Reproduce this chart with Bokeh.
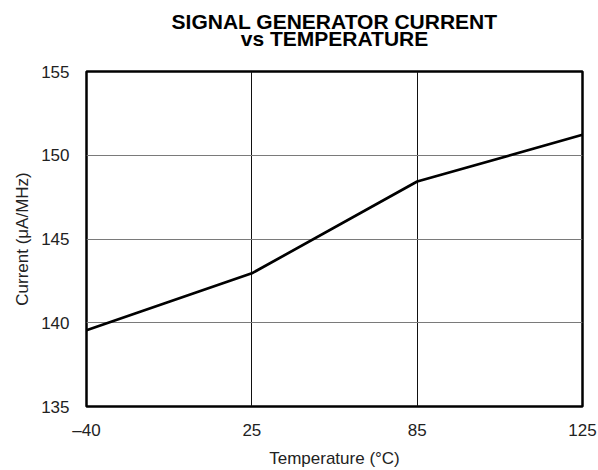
from bokeh.plotting import figure
from bokeh.models import Range1d, FixedTicker, Title
from bokeh.embed import file_html
from bokeh.resources import INLINE

temps = ["–40", "25", "85", "125"]
current = [139.55, 142.95, 148.43, 151.22]
y_ticks = [135, 140, 145, 150, 155]
title_lines = ["SIGNAL GENERATOR CURRENT", "vs TEMPERATURE"]

FONT = "Liberation Sans"
xs = list(range(len(temps)))

p = figure(width=598, height=470, output_backend="svg", toolbar_location=None,
           x_range=Range1d(0, len(temps) - 1), y_range=Range1d(y_ticks[0], y_ticks[-1]),
           min_border_left=86, min_border_right=16, min_border_top=71, min_border_bottom=64)
p.background_fill_color = "white"
p.border_fill_color = "white"
p.outline_line_color = "black"
p.outline_line_width = 2.5

p.line(xs, current, line_color="black", line_width=2.7)

p.xaxis.ticker = FixedTicker(ticks=xs)
p.xaxis.major_label_overrides = {i: t for i, t in enumerate(temps)}
p.yaxis.ticker = FixedTicker(ticks=y_ticks)

for ax in (p.xaxis[0], p.yaxis[0]):
    ax.axis_line_color = None
    ax.major_tick_line_color = None
    ax.minor_tick_line_color = None
    ax.major_tick_out = 0
    ax.major_tick_in = 0
    ax.minor_tick_out = 0
    ax.minor_tick_in = 0
    ax.major_label_text_font = FONT
    ax.major_label_text_font_size = "17px"
    ax.major_label_text_color = "#222222"
    ax.axis_label_text_font = FONT
    ax.axis_label_text_font_size = "17px"
    ax.axis_label_text_font_style = "normal"
    ax.axis_label_text_color = "#222222"

p.xaxis.axis_label = "Temperature (°C)"
p.yaxis.axis_label = "Current (μA/MHz)"
p.xaxis.major_label_standoff = 14
p.yaxis.major_label_standoff = 17
p.xaxis.axis_label_standoff = 6
p.yaxis.axis_label_standoff = 6

p.xgrid.grid_line_color = "#111111"
p.xgrid.grid_line_width = 1
p.ygrid.grid_line_color = "#7a7a7a"
p.ygrid.grid_line_width = 1

# inner (closest to frame) first, then outer
for line_text, gap in ((title_lines[1], 44), (title_lines[0], -60)):
    p.add_layout(Title(text=line_text, align="center", text_font=FONT,
                       text_font_size="21px", text_font_style="bold", text_color="black",
                       standoff=gap), "above")

open("out.html", "w").write(file_html(p, INLINE))
